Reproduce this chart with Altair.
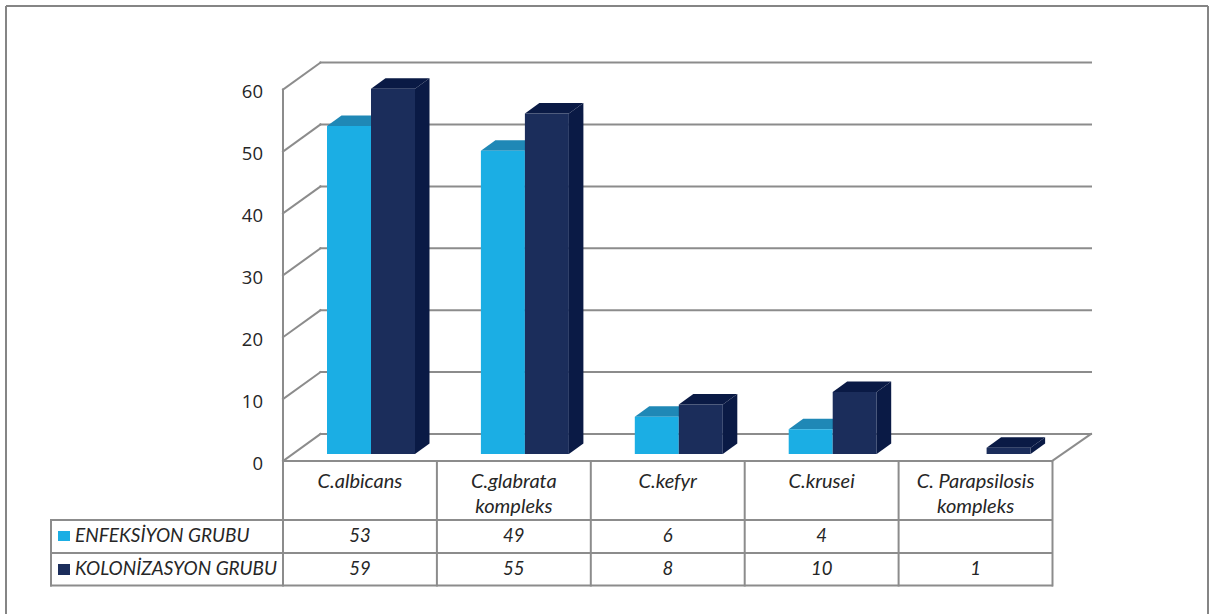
import altair as alt
import pandas as pd

# Chart values
categories = ["C.albicans", "C.glabrata kompleks", "C.kefyr", "C.krusei", "C. Parapsilosis kompleks"]
category_lines = [["C.albicans"], ["C.glabrata", "kompleks"], ["C.kefyr"], ["C.krusei"], ["C. Parapsilosis", "kompleks"]]
enfeksiyon = [53, 49, 6, 4, None]
kolonizasyon = [59, 55, 8, 10, 1]
series_names = ["ENFEKSİYON GRUBU", "KOLONİZASYON GRUBU"]
y_ticks = [0, 10, 20, 30, 40, 50, 60]

# Colours
LIGHT, LIGHT_TOP = "#1BAEE4", "#1F88B6"
DARK, DARK_SHADE = "#1B2D5B", "#0A1A45"
GREY = "#8C8C8C"
INK = "#262626"

# Canvas and plot geometry, in pixels
W, H = 1211, 614
X0, Y0 = 283, 461          # front-left corner of the floor
CAT_PX, UNIT_PX = 153.9, 6.19
WALL_DX, WALL_DY = 37.5, 27.0   # depth of the chart box
BAR_DX, BAR_DY = 14.5, 10.5     # depth of a column
BAR_W = 44
BAR_START = 44                  # first column's left edge within a category
BAR_BASE = 7                    # columns stand this far behind the front edge


def ux(px):
    return (px - X0) / CAT_PX


def uy(px):
    return (Y0 - px) / UNIT_PX


x_scale = alt.Scale(domain=[ux(0), ux(W)], range=[0, W], nice=False, zero=False)
y_scale = alt.Scale(domain=[uy(H), uy(0)], range=[H, 0], nice=False, zero=False)
X = alt.X("x:Q", scale=x_scale, axis=None)
Y = alt.Y("y:Q", scale=y_scale, axis=None)

# Frame lines and table grid: each segment is a pair of points
segments = []


def seg(x1, y1, x2, y2):
    sid = len(segments)
    segments.append({"s": sid, "x": ux(x1), "y": uy(y1), "o": 0})
    segments.append({"s": sid, "x": ux(x2), "y": uy(y2), "o": 1})


seg(X0, Y0, X0, Y0 - 60 * UNIT_PX)
for t in y_ticks:
    fy = Y0 - t * UNIT_PX
    seg(X0, fy, X0 + WALL_DX, fy - WALL_DY)
    seg(X0 + WALL_DX, fy - WALL_DY, 1091, fy - WALL_DY)
seg(X0, Y0, 1052, Y0)
seg(1052, Y0, 1091, Y0 - WALL_DY)

row_lines = [520, 553, 585.5]
for i in range(6):
    vx = X0 + i * CAT_PX
    seg(vx, Y0, vx, row_lines[-1])
for ry in row_lines:
    seg(51, ry, 1052, ry)
seg(51, row_lines[0], 51, row_lines[-1])

grid = (
    alt.Chart(pd.DataFrame(segments))
    .mark_line(color=GREY, strokeWidth=2, strokeCap="square")
    .encode(x=X, y=Y, detail="s:N", order="o:Q")
)

# Outer border of the figure
border_rows = []
for sid, (x1, y1, x2, y2) in enumerate([(6, 6, 1208, 6), (6, 6, 6, H), (1208, 6, 1208, H)]):
    border_rows.append({"s": sid, "x": ux(x1), "y": uy(y1), "o": 0})
    border_rows.append({"s": sid, "x": ux(x2), "y": uy(y2), "o": 1})
border = (
    alt.Chart(pd.DataFrame(border_rows))
    .mark_line(color="#858585", strokeWidth=2)
    .encode(x=X, y=Y, detail="s:N", order="o:Q")
)

# Column faces
base = uy(Y0 - BAR_BASE)
bw, bdx, bdy = BAR_W / CAT_PX, BAR_DX / CAT_PX, BAR_DY / UNIT_PX
front_l, front_d, top_l, top_d, side_d = [], [], [], [], []
for i in range(len(categories)):
    left = i + BAR_START / CAT_PX
    mid = left + bw
    right = mid + bw
    a, b = enfeksiyon[i], kolonizasyon[i]
    if a is not None:
        front_l.append({"x": left, "x2": mid, "y": base, "y2": base + a})
        top_l.append({"b": i, "x": left, "x2": mid, "y": base + a})
        top_l.append({"b": i, "x": left + bdx, "x2": mid + bdx, "y": base + a + bdy})
    front_d.append({"x": mid, "x2": right, "y": base, "y2": base + b})
    top_d.append({"b": i, "x": mid, "x2": right, "y": base + b})
    top_d.append({"b": i, "x": mid + bdx, "x2": right + bdx, "y": base + b + bdy})
    side_d.append({"b": i, "x": right, "y": base, "y2": base + b})
    side_d.append({"b": i, "x": right + bdx, "y": base + bdy, "y2": base + b + bdy})


def front(rows, color):
    return alt.Chart(pd.DataFrame(rows)).mark_rect(color=color).encode(x=X, x2="x2:Q", y=Y, y2="y2:Q")


def top(rows, color):
    return (
        alt.Chart(pd.DataFrame(rows))
        .mark_area(color=color, orient="horizontal")
        .encode(y=Y, x=X, x2="x2:Q", detail="b:N")
    )


side = (
    alt.Chart(pd.DataFrame(side_d))
    .mark_area(color=DARK_SHADE)
    .encode(x=X, y=Y, y2="y2:Q", detail="b:N")
)

# Value labels beside the left wall
tick_rows = [{"x": ux(263), "y": t, "t": str(t)} for t in y_ticks]
tick_text = (
    alt.Chart(pd.DataFrame(tick_rows))
    .mark_text(font="Open Sans", fontSize=18.5, color=INK, align="right", baseline="middle", dy=2.5)
    .encode(x=X, y=Y, text="t:N")
)


def label_layer(rows, size, align="center"):
    return (
        alt.Chart(pd.DataFrame(rows))
        .mark_text(font="Lato", fontStyle="italic", fontSize=size, color=INK, align=align, baseline="middle")
        .encode(x=X, y=Y, text="t:N")
    )


# Table text
cat_text = []
for i, lines in enumerate(category_lines):
    for j, line in enumerate(lines):
        cat_text.append({"x": i + 0.5, "y": uy(482 + j * 25), "t": line})
value_text = []
for i in range(len(categories)):
    if enfeksiyon[i] is not None:
        value_text.append({"x": i + 0.5, "y": uy(535.5), "t": str(enfeksiyon[i])})
    value_text.append({"x": i + 0.5, "y": uy(568.5), "t": str(kolonizasyon[i])})
legend_text = [
    {"x": ux(75), "y": uy(535.5), "t": series_names[0]},
    {"x": ux(75), "y": uy(568.5), "t": series_names[1]},
]

# Legend keys inside the table
keys = (
    alt.Chart(
        pd.DataFrame(
            [
                {"x": ux(58), "x2": ux(70), "y": uy(531), "y2": uy(541), "c": series_names[0]},
                {"x": ux(58), "x2": ux(70), "y": uy(564), "y2": uy(575), "c": series_names[1]},
            ]
        )
    )
    .mark_rect()
    .encode(
        x=X,
        x2="x2:Q",
        y=Y,
        y2="y2:Q",
        color=alt.Color("c:N", scale=alt.Scale(domain=series_names, range=[LIGHT, DARK]), legend=None),
    )
)

chart = alt.layer(
    border,
    grid,
    top(top_l, LIGHT_TOP),
    front(front_l, LIGHT),
    top(top_d, DARK_SHADE),
    side,
    front(front_d, DARK),
    keys,
    tick_text,
    label_layer(cat_text, 20),
    label_layer(value_text, 18.5),
    label_layer(legend_text, 19, "left"),
).properties(
    width=W,
    height=H,
    padding=0,
    autosize=alt.AutoSizeParams(type="none"),
    background="white",
).configure_view(stroke=None)

chart.save("out.html", embed_options={"renderer": "svg", "actions": False})
